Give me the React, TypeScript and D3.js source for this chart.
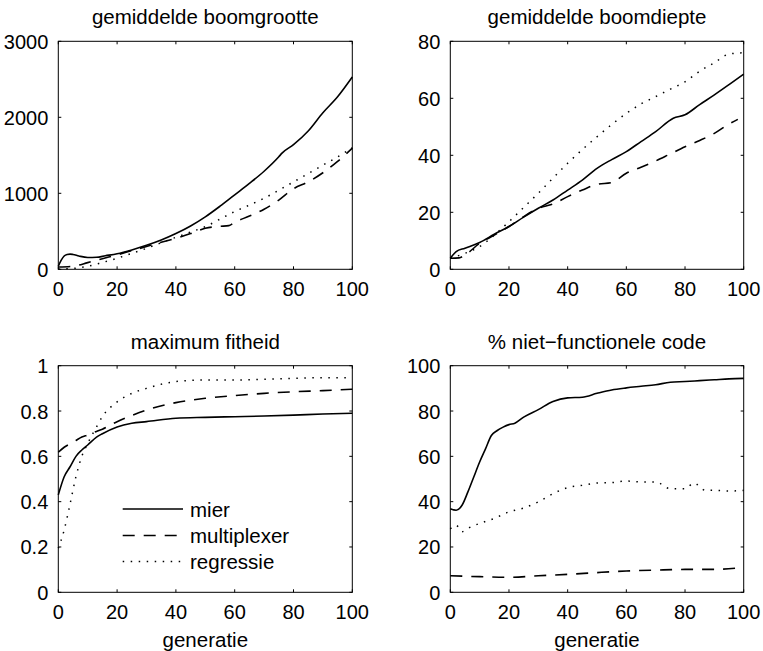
import React from "react";
import * as d3 from "d3";

// ---- Data ----
const generations = [0, 2, 4, 6, 8, 10, 13, 16, 20, 25, 30, 35, 40, 45, 50, 55, 60, 65, 70, 75, 76, 80, 85, 90, 95, 100];

const sizeX = [0, 1, 2, 3, 4, 5, 7, 10, 13, 16, 20, 25, 30, 35, 40, 45, 50, 55, 60, 65, 70, 75, 76, 80, 85, 90, 95, 100];
const sizeMier = [40, 120, 175, 195, 200, 195, 175, 155, 158, 178, 205, 255, 315, 385, 470, 570, 690, 830, 980, 1130, 1290, 1480, 1525, 1640, 1820, 2060, 2270, 2530];
const sizeMultiX = [0, 5, 10, 15, 20, 25, 30, 35, 40, 45, 50, 55, 58, 60, 65, 70, 75, 80, 85, 90, 95, 100];
const sizeMulti = [30, 40, 88, 140, 190, 245, 300, 355, 408, 470, 540, 565, 575, 620, 700, 790, 910, 1060, 1150, 1270, 1420, 1595];
const sizeRegrX = [0, 5, 10, 15, 20, 25, 30, 35, 40, 45, 50, 55, 60, 65, 70, 75, 80, 85, 90, 95, 100];
const sizeRegr = [5, 12, 40, 90, 145, 210, 276, 350, 421, 490, 561, 660, 760, 845, 935, 1040, 1150, 1260, 1370, 1480, 1600];

const depthX = [0, 2, 5, 10, 15, 20, 25, 30, 35, 40, 45, 50, 55, 60, 65, 70, 76, 80, 85, 90, 95, 100];
const depthMier = [3.9, 6.2, 7.4, 9.4, 12.3, 15, 18.3, 21.4, 24.3, 27.8, 31.3, 35.4, 38.5, 41.3, 44.8, 48.3, 53, 54.2, 57.8, 61.2, 64.8, 68.5];
const depthMultiX = [0, 3, 5, 10, 15, 20, 25, 30, 35, 40, 45, 50, 55, 60, 65, 70, 75, 80, 85, 90, 95, 98];
const depthMulti = [3.9, 4, 5, 9.1, 12, 15, 18.5, 21.4, 22.9, 25.5, 27.8, 29.8, 30.4, 33.7, 35.8, 38, 40.5, 43, 45.2, 47.7, 51, 52.6];
const depthRegrX = [0, 5, 10, 15, 20, 25, 30, 35, 40, 45, 50, 55, 60, 65, 70, 75, 80, 85, 90, 95, 100];
const depthRegr = [3.9, 5.6, 8, 12, 16.7, 21.7, 26.7, 32, 37.2, 42, 46.5, 50.8, 54.7, 58, 60.6, 63.2, 65.8, 69.5, 72.5, 75.5, 76];

const fitX = [0, 2, 4, 6, 8, 10, 13, 15, 20, 25, 30, 40, 50, 60, 70, 80, 90, 100];
const fitMier = [0.43, 0.51, 0.554, 0.6, 0.628, 0.65, 0.685, 0.7, 0.73, 0.746, 0.753, 0.768, 0.772, 0.775, 0.778, 0.782, 0.787, 0.79];
const fitMulti = [0.618, 0.64, 0.655, 0.67, 0.685, 0.694, 0.71, 0.72, 0.753, 0.78, 0.804, 0.837, 0.856, 0.868, 0.878, 0.885, 0.89, 0.896];
const fitRegr = [0.194, 0.275, 0.39, 0.51, 0.6, 0.657, 0.73, 0.775, 0.84, 0.878, 0.9, 0.93, 0.937, 0.937, 0.94, 0.944, 0.947, 0.947];

const codeX = [0, 2, 4, 6, 8, 10, 12, 14, 16, 18, 20, 22, 25, 30, 35, 40, 45, 50, 55, 60, 65, 70, 75, 80, 85, 90, 95, 100];
const codeMier = [36.9, 36.2, 38.4, 44.3, 50.9, 57.5, 63.3, 69.2, 71.4, 72.9, 74, 74.6, 77.3, 80.6, 84.2, 85.8, 86.1, 87.8, 89.3, 90.2, 90.9, 91.6, 92.7, 93, 93.4, 93.8, 94.2, 94.4];
const codeMultiX = [0, 10, 20, 30, 40, 50, 60, 70, 80, 90, 100];
const codeMulti = [7.3, 6.9, 6.6, 7.3, 7.9, 8.7, 9.4, 9.8, 10.1, 10.1, 11];
const codeRegrX = [0, 2, 4, 6, 10, 15, 20, 25, 30, 35, 40, 45, 50, 55, 60, 65, 70, 75, 80, 83, 87, 90, 95, 100];
const codeRegr = [28, 29.6, 26.7, 28.2, 30.4, 32.6, 35.5, 37.2, 39.9, 43.5, 46.2, 47.2, 48.2, 48.4, 49.1, 48.7, 48.7, 45.7, 45.7, 48.2, 45, 45, 44.7, 45];

const xTicks = [0, 20, 40, 60, 80, 100];
const titles = ["gemiddelde boomgrootte", "gemiddelde boomdiepte", "maximum fitheid", "% niet\u2212functionele code"];
const yTicksList = [
  [0, 1000, 2000, 3000],
  [0, 20, 40, 60, 80],
  [0, 0.2, 0.4, 0.6, 0.8, 1],
  [0, 20, 40, 60, 80, 100],
];
const yDomains: [number, number][] = [[0, 3000], [0, 80], [0, 1], [0, 100]];
const seriesNames = ["mier", "multiplexer", "regressie"];
const xLabel = "generatie";

type Series = { xs: number[]; ys: number[] };
const panelSeries: Series[][] = [
  [{ xs: sizeX, ys: sizeMier }, { xs: sizeMultiX, ys: sizeMulti }, { xs: sizeRegrX, ys: sizeRegr }],
  [{ xs: depthX, ys: depthMier }, { xs: depthMultiX, ys: depthMulti }, { xs: depthRegrX, ys: depthRegr }],
  [{ xs: fitX, ys: fitMier }, { xs: fitX, ys: fitMulti }, { xs: fitX, ys: fitRegr }],
  [{ xs: codeX, ys: codeMier }, { xs: codeMultiX, ys: codeMulti }, { xs: codeRegrX, ys: codeRegr }],
];
void generations;

// ---- Styles / layout ----
const W = 763, H = 651;
const FONT = "'Liberation Sans', Arial, Helvetica, sans-serif";
const dashStyles = [undefined, "12,9", "1.5,6.5"];
const boxes = [
  { x0: 58.3, x1: 352.3, y0: 41.3, y1: 269.3 },
  { x0: 450.3, x1: 743.7, y0: 41.3, y1: 269.3 },
  { x0: 58.3, x1: 352.3, y0: 365.7, y1: 592.3 },
  { x0: 450.3, x1: 743.7, y0: 365.7, y1: 592.3 },
];
const TICK = 3;

function Panel({ idx }: { idx: number }) {
  const b = boxes[idx];
  const x = d3.scaleLinear().domain([0, 100]).range([b.x0, b.x1]);
  const y = d3.scaleLinear().domain(yDomains[idx]).range([b.y1, b.y0]);
  const line = d3.line<[number, number]>()
    .x((d) => x(d[0]))
    .y((d) => y(d[1]))
    .curve(d3.curveMonotoneX);
  const yTicks = yTicksList[idx];
  const fmt = (v: number) => String(+v.toFixed(2));
  const bottomRow = idx >= 2;
  return (
    <g>
      {panelSeries[idx].map((s, i) => (
        <path
          key={i}
          d={line(s.xs.map((xv, k) => [xv, s.ys[k]] as [number, number])) || ""}
          fill="none"
          stroke="#000"
          strokeWidth={i === 2 ? 1.5 : 1.6}
          strokeDasharray={dashStyles[i]}
          strokeLinecap={i === 2 ? "butt" : "butt"}
        />
      ))}
      <rect x={b.x0} y={b.y0} width={b.x1 - b.x0} height={b.y1 - b.y0} fill="none" stroke="#000" strokeWidth={1} />
      {xTicks.map((t) => (
        <g key={"x" + t}>
          <line x1={x(t)} x2={x(t)} y1={b.y1} y2={b.y1 - TICK} stroke="#000" />
          <line x1={x(t)} x2={x(t)} y1={b.y0} y2={b.y0 + TICK} stroke="#000" />
          <text x={x(t)} y={b.y1 + 27} textAnchor="middle" fontSize={20} fontFamily={FONT}>{t}</text>
        </g>
      ))}
      {yTicks.map((t) => (
        <g key={"y" + t}>
          <line x1={b.x0} x2={b.x0 + TICK} y1={y(t)} y2={y(t)} stroke="#000" />
          <line x1={b.x1} x2={b.x1 - TICK} y1={y(t)} y2={y(t)} stroke="#000" />
          <text x={b.x0 - 10} y={y(t) + 7.5} textAnchor="end" fontSize={20} fontFamily={FONT}>{fmt(t)}</text>
        </g>
      ))}
      <text x={(b.x0 + b.x1) / 2} y={b.y0 - 17} textAnchor="middle" fontSize={20.5} fontFamily={FONT}>{titles[idx]}</text>
      {bottomRow && (
        <text x={(b.x0 + b.x1) / 2} y={b.y1 + 55} textAnchor="middle" fontSize={20.5} fontFamily={FONT}>{xLabel}</text>
      )}
    </g>
  );
}

function Legend() {
  const ys = [509, 535.5, 561.5];
  return (
    <g>
      {seriesNames.map((n, i) => (
        <g key={n}>
          <line x1={122.7} x2={183} y1={ys[i]} y2={ys[i]} stroke="#000" strokeWidth={i === 2 ? 1.5 : 1.6} strokeDasharray={dashStyles[i]} />
          <text x={190} y={ys[i] + 7.5} fontSize={20.5} fontFamily={FONT}>{n}</text>
        </g>
      ))}
    </g>
  );
}

export default function App() {
  return (
    <svg width={W} height={H} style={{ position: "absolute", left: 0, top: 0, background: "#fff" }}>
      <rect width={W} height={H} fill="#fff" />
      {[0, 1, 2, 3].map((i) => <Panel key={i} idx={i} />)}
      <Legend />
    </svg>
  );
}
